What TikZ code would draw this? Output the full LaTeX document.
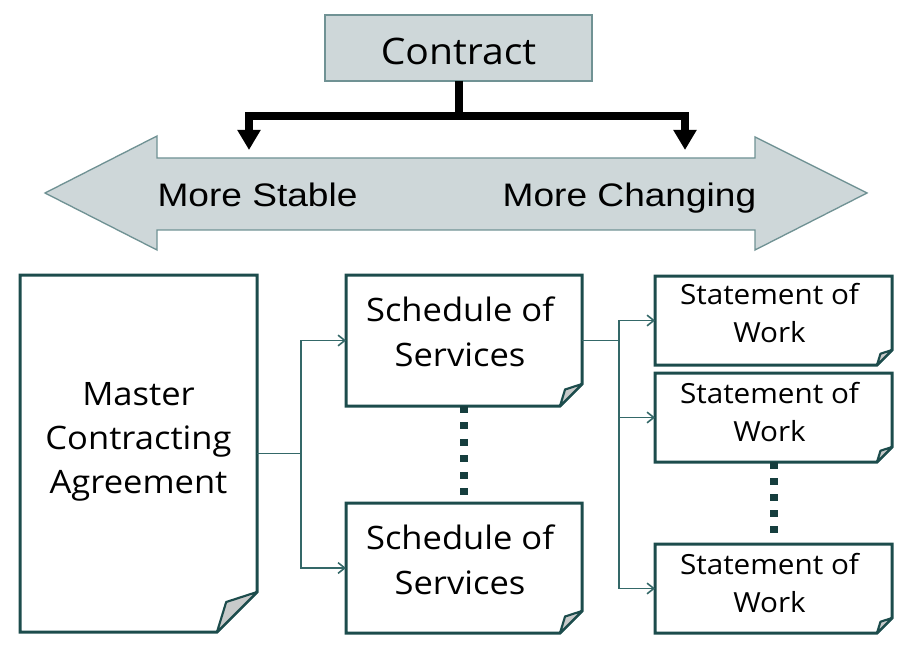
\documentclass[tikz,border=0pt]{standalone}
\usepackage{fontspec}
\setmainfont{Open Sans}[FakeStretch=1.07]
\newfontfamily\arialf{Liberation Sans}[FakeStretch=1.14]
\usetikzlibrary{arrows.meta,calc}
\definecolor{boxteal}{RGB}{28,76,76}
\definecolor{dotteal}{RGB}{22,62,62}
\definecolor{conteal}{RGB}{52,104,104}
\definecolor{paleblue}{RGB}{206,215,217}
\definecolor{paleedge}{RGB}{112,146,148}
\definecolor{foldgray}{RGB}{200,202,202}
\newcommand\docfold[2]{%
  \draw[docline] (#1.north west) -- (#1.north east) -- ($(#1.south east)+(0,-#2)$)
    -- ($(#1.south east)+(-#2,0)$) -- (#1.south west) -- cycle;
  \draw[foldline] ($(#1.south east)+(0,-#2)$) -- ($(#1.south east)+({-0.77*#2},{-0.75*#2})$)
    -- ($(#1.south east)+(-#2,0)$) -- cycle;}
\begin{document}
\begin{tikzpicture}[x=0.75pt,y=-0.75pt,
  boxnode/.style={inner sep=0pt,outer sep=0pt,draw=none},
  docline/.style={draw=boxteal,line width=2.25pt,line join=miter,fill=white},
  foldline/.style={draw=boxteal,line width=1.6pt,line join=round,fill=foldgray},
  bigtext/.style={font=\fontsize{24.2pt}{33pt}\selectfont,align=center,inner sep=0pt},
  schedtext/.style={font=\fontsize{24.2pt}{33.75pt}\selectfont,align=center,inner sep=0pt},
  sowtext/.style={font=\fontsize{20.8pt}{28.5pt}\selectfont,align=center,inner sep=0pt},
  arrtext/.style={font=\arialf\fontsize{24.4pt}{28pt}\selectfont,inner sep=0pt,anchor=base},
  conn/.style={draw=conteal,line width=1.1pt},
  connarrow/.style={conn,-{Straight Barb[length=5pt,width=8pt,line width=1.2pt]}},
  blackarrow/.style={draw=black,line width=6pt,line join=miter,-{Triangle[length=15pt,width=16.5pt]}},
  dotline/.style={draw=dotteal,line width=6pt}]
\useasboundingbox (0,0) rectangle (906,659);

% big double arrow
\path[fill=paleblue,draw=paleedge,line width=1pt,line join=miter]
  (45,193) -- (157,136) -- (157,158) -- (755,158) -- (755,137) -- (867,193)
  -- (755,250) -- (755,230) -- (157,230) -- (157,250) -- cycle;
\node[arrtext] (stable) at (257.5,207) {More Stable};
\node[arrtext] (changing) at (629.5,207) {More Changing};

% contract box
\node[boxnode,draw=paleedge,fill=paleblue,line width=1pt,minimum width=267*0.75pt,minimum height=66*0.75pt,
  font=\fontsize{27.4pt}{30pt}\selectfont,text height=25.5pt,text depth=0pt] (contract) at (458.5,48) {Contract};
\coordinate (J) at ($(contract.south)+(0,35)$);
\coordinate (tipL) at (249,150);
\coordinate (tipR) at (685,150);
\draw[blackarrow] (contract.south) -- (J) -| (tipL);
\draw[blackarrow] (J) -| (tipR);

% document boxes
\node[boxnode,minimum width=237*0.75pt,minimum height=357*0.75pt] (master) at (138.5,453.5) {};
\node[boxnode,minimum width=236*0.75pt,minimum height=131*0.75pt] (sched1) at (464,340.5) {};
\node[boxnode,minimum width=236*0.75pt,minimum height=130*0.75pt] (sched2) at (464,568) {};
\node[boxnode,minimum width=237*0.75pt,minimum height=89*0.75pt] (sow1) at (773.5,320.5) {};
\node[boxnode,minimum width=237*0.75pt,minimum height=89*0.75pt] (sow2) at (773.5,417.5) {};
\node[boxnode,minimum width=237*0.75pt,minimum height=89*0.75pt] (sow3) at (773.5,588.5) {};
\docfold{master}{40}
\docfold{sched1}{22}
\docfold{sched2}{22}
\docfold{sow1}{15}
\docfold{sow2}{15}
\docfold{sow3}{15}

\node[bigtext] (masterT) at (138.5,441.9) {Master\\Contracting\\Agreement};
\node[schedtext] (sched1T) at (460,332) {Schedule of\\Services};
\node[schedtext] (sched2T) at (460,560.2) {Schedule of\\Services};
\node[sowtext] (sow1T) at (769.5,313.5) {Statement of\\Work};
\node[sowtext] (sow2T) at (769.5,412) {Statement of\\Work};
\node[sowtext] (sow3T) at (769.5,583.5) {Statement of\\Work};

% connectors
\coordinate (j1) at ($(master.east)+(44,0)$);
\draw[conn] (master.east) -- (j1);
\draw[connarrow] (j1) |- (sched1.west);
\draw[connarrow] (j1) |- (sched2.west);
\coordinate (j2) at ($(sched1.east)+(37,0)$);
\draw[conn] (sched1.east) -- (j2);
\draw[connarrow] (j2) |- (sow1.west);
\draw[connarrow] (j2) |- (sow2.west);
\draw[connarrow] (j2) |- (sow3.west);

% dotted continuation lines
\draw[dotline,dash pattern=on 5.25pt off 7.1pt,shorten >=6pt] (sched1.south) -- (sched2.north);
\draw[dotline,dash pattern=on 5.25pt off 6.75pt,shorten >=6.5pt] (sow2.south) -- (sow3.north);
\end{tikzpicture}
\end{document}
